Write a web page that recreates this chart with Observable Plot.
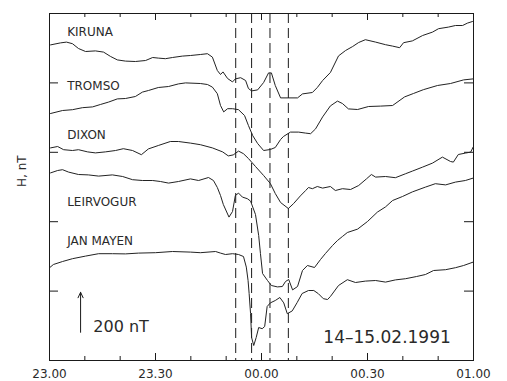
<!DOCTYPE html>
<html>
<head>
<meta charset="utf-8">
<script src="https://cdn.jsdelivr.net/npm/d3@7"></script>
<script src="https://cdn.jsdelivr.net/npm/@observablehq/plot@0.6"></script>
<style>
  html, body { margin: 0; padding: 0; background: #fff; }
  #chart svg { display: block; }
</style>
</head>
<body>
<div id="chart"></div>
<script>
// Time in minutes after 23:00 (14.02.1991), H in nT (stacked, arbitrary baseline)
const stations = ["KIRUNA", "TROMSO", "DIXON", "LEIRVOGUR", "JAN MAYEN"];

const kiruna = [[0.3,1578],[3.1,1588],[4.8,1592],[6.5,1584],[8.2,1560],[10.2,1545],[13.0,1548],[15.3,1542],[17.3,1520],[19.2,1503],[21.5,1497],[24.3,1495],[27.2,1500],[29.2,1515],[30.8,1512],[32.8,1509],[34.8,1515],[37.6,1522],[39.9,1525],[42.7,1530],[44.7,1534],[46.1,1517],[47.5,1450],[48.4,1430],[49.1,1443],[50.4,1410],[51.8,1393],[52.6,1408],[54.1,1414],[55.5,1400],[56.3,1360],[57.2,1348],[58.9,1353],[60.6,1390],[62.0,1438],[62.8,1438],[63.9,1375],[65.4,1313],[67.6,1313],[70.2,1313],[71.6,1333],[74.4,1340],[75.8,1365],[77.3,1400],[79.5,1440],[81.8,1523],[83.8,1550],[85.8,1570],[87.5,1590],[89.4,1604],[92.3,1592],[95.1,1579],[97.1,1572],[99.1,1564],[100.2,1589],[102.7,1598],[105.6,1625],[108.4,1642],[110.1,1659],[112.9,1667],[114.9,1675],[116.9,1675],[118.3,1687],[119.7,1695]];

const tromso = [[0.3,1235],[3.7,1250],[6.5,1254],[9.3,1264],[12.2,1268],[14.4,1280],[16.7,1292],[19.2,1308],[21.5,1310],[24.3,1320],[26.3,1342],[28.0,1350],[30.8,1365],[33.7,1370],[36.5,1383],[38.5,1388],[42.7,1385],[44.7,1380],[46.1,1367],[47.5,1334],[48.4,1275],[49.3,1243],[50.4,1259],[51.8,1259],[53.5,1254],[55.2,1225],[56.3,1175],[57.5,1125],[58.9,1085],[60.6,1050],[62.5,1055],[63.9,1065],[65.4,1105],[66.2,1120],[68.2,1142],[70.5,1142],[72.5,1137],[73.9,1134],[75.3,1158],[77.3,1218],[79.5,1273],[81.5,1297],[82.9,1285],[84.6,1258],[87.2,1255],[90.3,1270],[93.7,1272],[97.1,1275],[100.5,1318],[103.0,1335],[105.8,1354],[109.8,1375],[113.5,1385],[117.2,1403],[119.9,1408]];

const dixon = [[0.3,1063],[2.3,1070],[4.0,1054],[6.5,1050],[8.2,1054],[10.8,1043],[13.0,1038],[15.8,1043],[18.7,1050],[20.9,1059],[23.5,1050],[26.0,1029],[28.0,1058],[30.8,1075],[34.2,1095],[36.5,1095],[39.9,1087],[42.7,1079],[46.1,1063],[49.0,1043],[50.6,1023],[52.0,1028],[53.5,1047],[54.9,1034],[56.3,1010],[58.3,970],[60.6,925],[62.5,885],[63.9,835],[65.4,790],[67.6,760],[69.1,785],[71.0,823],[72.5,850],[73.3,865],[74.4,859],[75.8,870],[77.3,862],[79.5,870],[80.9,850],[82.9,859],[85.2,855],[87.5,875],[89.7,908],[91.1,930],[92.3,917],[95.1,920],[97.9,914],[100.8,934],[102.7,947],[105.6,967],[108.4,987],[111.2,1017],[113.5,995],[114.3,992],[115.7,1030],[117.7,1037],[119.2,1042],[119.9,1067]];

const leirvogur = [[0.3,938],[2.3,950],[3.7,954],[5.4,942],[8.2,930],[11.0,928],[13.9,922],[17.8,928],[20.7,920],[23.5,904],[26.3,900],[29.2,900],[31.4,895],[33.7,887],[36.5,895],[39.9,908],[42.2,900],[45.0,915],[46.4,900],[47.5,865],[48.4,825],[49.2,780],[50.8,717],[51.8,745],[52.6,825],[53.5,837],[54.6,817],[56.0,809],[56.9,797],[58.3,730],[59.2,625],[59.7,535],[60.3,435],[61.7,400],[62.8,375],[64.5,368],[65.9,370],[66.8,395],[67.7,405],[68.8,353],[70.2,370],[71.6,450],[73.0,475],[75.0,465],[76.7,505],[78.1,535],[80.1,575],[81.5,600],[82.9,620],[84.3,640],[87.2,657],[90.0,695],[92.8,742],[95.1,768],[97.1,800],[99.9,820],[102.7,843],[106.4,867],[109.2,884],[112.1,878],[114.9,892],[117.7,900],[119.9,912]];

const janMayen = [[0.1,465],[1.1,480],[3.7,495],[6.5,509],[10.2,522],[13.9,534],[17.8,534],[21.5,533],[25.2,537],[30.0,539],[34.8,545],[39.9,542],[42.7,539],[47.0,545],[48.4,537],[49.8,530],[51.8,534],[53.5,530],[54.9,520],[55.7,467],[56.2,400],[56.5,335],[56.9,235],[57.2,115],[57.8,75],[58.5,115],[59.2,165],[60.2,159],[60.9,170],[61.6,270],[62.5,288],[63.9,300],[65.2,315],[66.3,288],[67.3,234],[68.7,248],[70.1,290],[71.5,335],[73.3,350],[74.8,350],[76.1,334],[77.5,309],[78.7,305],[79.5,320],[81.8,375],[84.3,404],[86.6,390],[89.4,397],[92.3,400],[95.1,392],[97.9,403],[100.8,409],[103.9,420],[106.4,430],[108.7,450],[112.1,454],[114.9,464],[117.2,475],[119.9,492]];

const series = [kiruna, tromso, dixon, leirvogur, janMayen];
const labelTime = [5.0, 5.0, 5.0, 5.0, 5.0];
const labelH = [1640, 1370, 1125, 792, 595];

const dashedTimes = [52.7, 57.2, 62.4, 67.6];
const xMajor = [0, 30, 60, 90, 120];
const xLabels = ["23.00", "23.30", "00.00", "00.30", "01.00"];
const xMinor = [10, 20, 40, 50, 70, 80, 100, 110];
const yTicks = [347, 694, 1041, 1388];

const scaleArrow = {t: 8.8, h1: 141, h2: 341, text: "200 nT", textT: 12.4, textH: 170};
const dateText = {t: 77.5, h: 116, text: "14–15.02.1991"};
const yLabel = "H, nT";

const rows = series.flatMap((s, i) => s.map(([t, h]) => ({station: stations[i], t, h})));
const labels = stations.map((s, i) => ({station: s, t: labelTime[i], h: labelH[i]}));

const font = "DejaVu Sans, sans-serif";
const ink = "#1a1a1a";
const textInk = "#2a2a2a";
const W = 507, H = 381, mT = 13, mB = 21, mL = 49, mR = 34;
const innerH = H - mT - mB, innerW = W - mL - mR;

const chart = Plot.plot({
  width: W, height: H,
  marginTop: mT, marginBottom: mB, marginLeft: mL, marginRight: mR,
  style: {fontFamily: font, background: "#fff", color: ink},
  x: {domain: [0, 120], axis: null},
  y: {domain: [0, 1735], axis: null},
  marks: [
    Plot.frame({stroke: ink, strokeWidth: 1}),
    // dashed event markers
    Plot.ruleX(dashedTimes, {stroke: ink, strokeWidth: 1, strokeDasharray: "10,5"}),
    // inward ticks: x major/minor, bottom and top
    Plot.tickX(xMajor, {x: d => d, insetTop: innerH - 7, stroke: ink}),
    Plot.tickX(xMajor, {x: d => d, insetBottom: innerH - 7, stroke: ink}),
    Plot.tickX(xMinor, {x: d => d, insetTop: innerH - 4, stroke: ink}),
    Plot.tickX(xMinor, {x: d => d, insetBottom: innerH - 4, stroke: ink}),
    // inward ticks: y, left and right
    Plot.tickY(yTicks, {y: d => d, insetRight: innerW - 9, stroke: ink}),
    Plot.tickY(yTicks, {y: d => d, insetLeft: innerW - 9, stroke: ink}),
    // traces
    Plot.line(rows, {x: "t", y: "h", z: "station", stroke: "#222", strokeWidth: 1}),
    // station labels
    Plot.text(labels, {x: "t", y: "h", text: "station", textAnchor: "start", fontSize: 12, fill: textInk}),
    // scale arrow
    Plot.arrow([scaleArrow], {x: "t", y1: "h1", y2: "h2", stroke: ink, strokeWidth: 1, headLength: 9, headAngle: 50}),
    Plot.text([scaleArrow], {x: "textT", y: "textH", text: "text", textAnchor: "start", fontSize: 16, fill: textInk}),
    // date
    Plot.text([dateText], {x: "t", y: "h", text: "text", textAnchor: "start", fontSize: 17, fill: textInk}),
    // x tick labels
    Plot.axisX({ticks: xMajor, tickFormat: (d) => xLabels[xMajor.indexOf(d)], tickSize: 0, tickPadding: 9, fontSize: 12, fill: textInk, label: null}),
    // y label
    Plot.text([yLabel], {frameAnchor: "left", dx: -27, dy: 0, rotate: -90, fontSize: 12, fill: textInk})
  ]
});
document.getElementById("chart").appendChild(chart);
</script>
</body>
</html>
